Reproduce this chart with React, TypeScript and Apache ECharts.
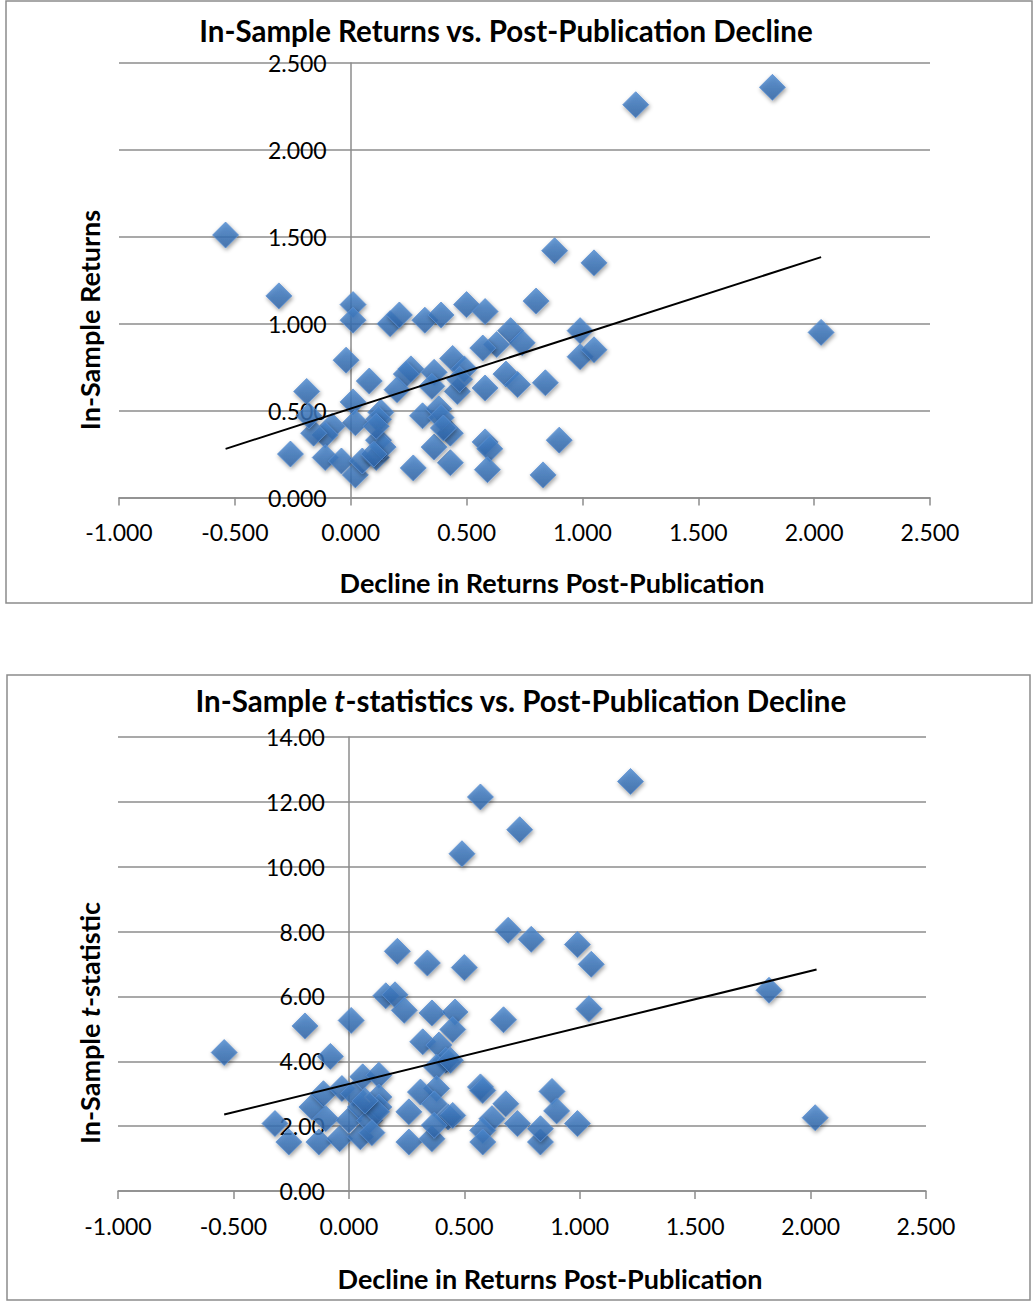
import React, { useEffect, useRef } from "react";
import * as echarts from "echarts";

// ---- Chart 1: In-Sample Returns vs. decline ----
const declineA = [
  -0.54, -0.31, 0.01, 0.01, 0.17, 0.21, 0.32, 0.39, 0.5, 0.58, 0.8, 0.88, 1.05, 1.23, 1.82, 2.03,
  0.69, 0.74, 0.63, 0.57, 0.99, 0.99, 1.05, 0.67, 0.72, 0.84, 0.58, 0.46, 0.44, 0.49,
  0.9, 0.58, 0.6, 0.59, 0.83, 0.43, 0.43, -0.02, 0.08, 0.26, 0.24, 0.2, 0.36, 0.35,
  -0.19, 0.01, 0.02, 0.13, 0.12, 0.31, 0.38, 0.39, 0.36, -0.08, -0.11, -0.16, -0.18,
  -0.26, -0.11, -0.04, 0.02, 0.05, 0.11, 0.12, 0.14, 0.27, 0.1, 0.11, 0.4, 0.47,
];
const returnsA = [
  1.51, 1.16, 1.11, 1.02, 1.0, 1.05, 1.02, 1.05, 1.11, 1.07, 1.13, 1.42, 1.35, 2.26, 2.36, 0.95,
  0.96, 0.89, 0.88, 0.86, 0.96, 0.81, 0.85, 0.71, 0.65, 0.66, 0.63, 0.61, 0.8, 0.74,
  0.33, 0.32, 0.28, 0.16, 0.13, 0.2, 0.37, 0.79, 0.67, 0.74, 0.71, 0.62, 0.72, 0.64,
  0.61, 0.55, 0.43, 0.49, 0.45, 0.47, 0.51, 0.46, 0.29, 0.41, 0.36, 0.37, 0.47,
  0.25, 0.23, 0.21, 0.13, 0.21, 0.23, 0.33, 0.29, 0.17, 0.25, 0.41, 0.4, 0.68,
];
const trendAX = [-0.54, 2.03];
const trendAY = [0.28, 1.383];

// ---- Chart 2: In-Sample t-statistics vs. decline ----
const declineB = [
  -0.54, -0.19, -0.08, 0.01, -0.32, -0.26, -0.13, -0.04, 0.05, 0.57, 0.74, 0.49, 0.69, 0.79,
  0.21, 0.34, 0.5, 0.16, 0.2, 0.24, 0.36, 0.46, 0.45, 0.67, 0.32, 0.39, 0.42, 0.38,
  0.57, 0.58, 0.38, 0.31, 0.37, 0.43, 0.45, 0.26, 0.26, 0.36, 0.37, 0.68, 0.62, 0.58,
  0.58, 0.73, 0.83, 0.83, 1.22, 0.99, 1.05, 1.82, 1.04, 0.88, 0.9, 0.99, 2.02,
  -0.16, -0.11, -0.1, -0.03, 0.02, 0.0, 0.06, 0.13, 0.05, 0.09, 0.13, 0.13, 0.12, 0.07, 0.44, 0.1,
];
const tstatB = [
  4.27, 5.09, 4.15, 5.26, 2.08, 1.51, 1.51, 1.61, 1.67, 12.15, 11.14, 10.4, 8.04, 7.76,
  7.39, 7.03, 6.89, 6.02, 6.05, 5.57, 5.49, 5.52, 4.98, 5.28, 4.6, 4.5, 4.03, 3.82,
  3.21, 3.1, 3.16, 3.05, 2.69, 2.28, 2.33, 2.44, 1.51, 1.61, 2.03, 2.69, 2.23, 1.87,
  1.51, 2.08, 1.51, 1.92, 12.63, 7.6, 6.99, 6.19, 5.62, 3.07, 2.47, 2.08, 2.26,
  2.59, 3.0, 2.23, 3.16, 3.0, 2.18, 3.52, 3.57, 2.59, 2.18, 2.9, 2.59, 2.44, 2.78, 4.03, 1.8,
];
const trendBX = [-0.54, 2.026];
const trendBY = [2.36, 6.83];

const FONT = "Lato, 'Open Sans', sans-serif";
const GRAY = "#8c8c8c";

const X_MIN = -1;
const X_MAX = 2.5;

const zip = (a: number[], b: number[]) => a.map((v, i) => [v, b[i]]);

const markerStyle = {
  color: new echarts.graphic.LinearGradient(0, 0, 0, 1, [
    { offset: 0, color: "#4a88cf" },
    { offset: 1, color: "#2c62a6" },
  ]),
  borderColor: "#5b90d2",
  borderWidth: 1,
  shadowBlur: 4,
  shadowColor: "rgba(0,0,0,0.45)",
  shadowOffsetX: 1,
  shadowOffsetY: 2,
};

function xAxisCfg(gridIndex: number) {
  return {
    type: "value",
    gridIndex,
    min: X_MIN,
    max: X_MAX,
    interval: 0.5,
    axisLine: { show: true, onZero: false, lineStyle: { color: GRAY, width: 1.5 } },
    axisTick: { show: true, inside: false, length: 8, lineStyle: { color: GRAY, width: 1.5 } },
    splitLine: { show: false },
    axisLabel: {
      margin: 23,
      color: "#000",
      fontFamily: FONT,
      fontSize: 23,
      formatter: (v: number) => v.toFixed(3),
    },
  };
}

// y axis sits at x = 0; offset moves line+labels there from the grid's left edge
function yAxisCfg(gridIndex: number, gridWidth: number, max: number, interval: number, digits: number) {
  return {
    type: "value",
    gridIndex,
    min: 0,
    max,
    interval,
    offset: -((0 - X_MIN) / (X_MAX - X_MIN)) * gridWidth,
    axisLine: { show: true, onZero: false, lineStyle: { color: GRAY, width: 1.5 } },
    axisTick: { show: false },
    splitLine: { show: true, lineStyle: { color: GRAY, width: 1.5 } },
    axisLabel: {
      margin: 24,
      color: "#000",
      fontFamily: FONT,
      fontSize: 23,
      formatter: (v: number) => v.toFixed(digits),
    },
  };
}

const GRID_A = { left: 119, top: 63, width: 811, height: 434.5 };
const GRID_B = { left: 118, top: 737, width: 808, height: 454 };

export default function App() {
  const ref = useRef<HTMLDivElement>(null);

  useEffect(() => {
    if (!ref.current) return;
    const chart = echarts.init(ref.current, undefined, { renderer: "svg" });
    const richT = {
      b: { fontFamily: FONT, fontWeight: "bold", fontSize: 29.5, color: "#000" },
      i: { fontFamily: FONT, fontWeight: "bold", fontStyle: "italic", fontSize: 29.5, color: "#000" },
    };
    const richY = {
      b: { fontFamily: FONT, fontWeight: "bold", fontSize: 27, color: "#000" },
      i: { fontFamily: FONT, fontWeight: "bold", fontStyle: "italic", fontSize: 27, color: "#000" },
    };
    const option = {
      animation: false,
      backgroundColor: "#ffffff",
      grid: [GRID_A, GRID_B],
      xAxis: [xAxisCfg(0), xAxisCfg(1)],
      yAxis: [yAxisCfg(0, GRID_A.width, 2.5, 0.5, 3), yAxisCfg(1, GRID_B.width, 14, 2, 2)],
      series: [
        {
          type: "scatter",
          xAxisIndex: 0,
          yAxisIndex: 0,
          symbol: "diamond",
          symbolSize: 26,
          itemStyle: markerStyle,
          data: zip(declineA, returnsA),
        },
        {
          type: "line",
          xAxisIndex: 0,
          yAxisIndex: 0,
          symbol: "none",
          lineStyle: { color: "#000", width: 2 },
          data: zip(trendAX, trendAY),
          z: 5,
        },
        {
          type: "scatter",
          xAxisIndex: 1,
          yAxisIndex: 1,
          symbol: "diamond",
          symbolSize: 26,
          itemStyle: markerStyle,
          data: zip(declineB, tstatB),
        },
        {
          type: "line",
          xAxisIndex: 1,
          yAxisIndex: 1,
          symbol: "none",
          lineStyle: { color: "#000", width: 2 },
          data: zip(trendBX, trendBY),
          z: 5,
        },
      ],
      graphic: [
        {
          type: "rect",
          shape: { x: 6, y: 1, width: 1026, height: 602 },
          style: { fill: "none", stroke: GRAY, lineWidth: 1.5 },
          silent: true,
        },
        {
          type: "rect",
          shape: { x: 7, y: 675, width: 1023, height: 625 },
          style: { fill: "none", stroke: GRAY, lineWidth: 1.5 },
          silent: true,
        },
        {
          type: "text",
          x: 506,
          y: 30,
          style: {
            text: "In-Sample Returns vs. Post-Publication Decline",
            textAlign: "center",
            textVerticalAlign: "middle",
            fontFamily: FONT,
            fontWeight: "bold",
            fontSize: 29.5,
            fill: "#000",
          },
        },
        {
          type: "text",
          x: 552,
          y: 582,
          style: {
            text: "Decline in Returns Post-Publication",
            textAlign: "center",
            textVerticalAlign: "middle",
            fontFamily: FONT,
            fontWeight: "bold",
            fontSize: 27,
            fill: "#000",
          },
        },
        {
          type: "text",
          x: 89,
          y: 320,
          rotation: Math.PI / 2,
          style: {
            text: "In-Sample Returns",
            textAlign: "center",
            textVerticalAlign: "middle",
            fontFamily: FONT,
            fontWeight: "bold",
            fontSize: 27,
            fill: "#000",
          },
        },
        {
          type: "text",
          x: 521,
          y: 700,
          style: {
            text: "{b|In-Sample }{i|t}{b|-statistics vs. Post-Publication Decline}",
            textAlign: "center",
            textVerticalAlign: "middle",
            rich: richT,
          },
        },
        {
          type: "text",
          x: 550,
          y: 1278,
          style: {
            text: "Decline in Returns Post-Publication",
            textAlign: "center",
            textVerticalAlign: "middle",
            fontFamily: FONT,
            fontWeight: "bold",
            fontSize: 27,
            fill: "#000",
          },
        },
        {
          type: "text",
          x: 89,
          y: 1023,
          rotation: Math.PI / 2,
          style: {
            text: "{b|In-Sample }{i|t}{b|-statistic}",
            textAlign: "center",
            textVerticalAlign: "middle",
            rich: richY,
          },
        },
      ],
    };
    chart.setOption(option as any);
    return () => chart.dispose();
  }, []);

  return (
    <div
      ref={ref}
      style={{ position: "absolute", left: 0, top: 0, width: 1034, height: 1301 }}
    />
  );
}
